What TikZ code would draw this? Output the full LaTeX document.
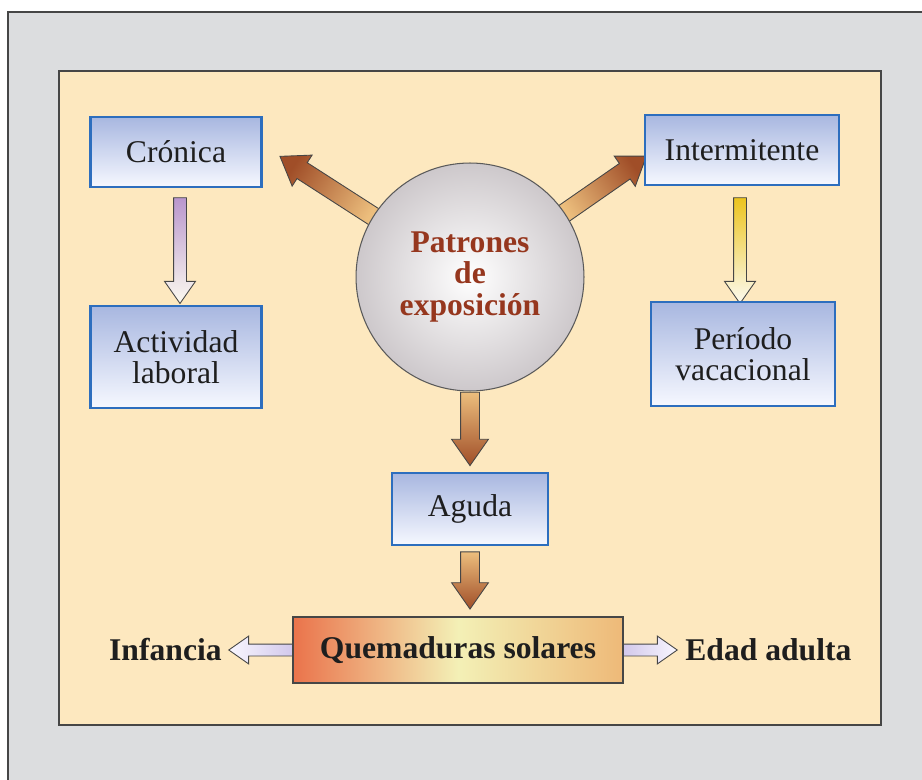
\documentclass[tikz,border=0pt]{standalone}
\usepackage{fontspec}
\setmainfont{Liberation Serif}
\usetikzlibrary{shapes.arrows, calc}

\definecolor{bggray}{RGB}{220,221,223}
\definecolor{cream}{RGB}{253,232,191}
\definecolor{framegray}{RGB}{70,70,70}
\definecolor{boxblue}{RGB}{45,110,190}
\definecolor{boxtop}{RGB}{168,183,224}
\definecolor{boxbot}{RGB}{246,248,255}
\definecolor{circgray}{RGB}{205,200,203}
\definecolor{circline}{RGB}{90,90,90}
\definecolor{circtext}{RGB}{150,55,30}
\definecolor{textblack}{RGB}{30,30,30}
\definecolor{browntail}{RGB}{236,190,125}
\definecolor{browntip}{RGB}{160,78,40}
\definecolor{purpletop}{RGB}{185,150,205}
\definecolor{yellowtop}{RGB}{236,196,30}
\definecolor{paletip}{RGB}{252,250,240}
\definecolor{lavtail}{RGB}{210,200,235}
\definecolor{lavtip}{RGB}{248,246,255}
\definecolor{qleft}{RGB}{234,115,75}
\definecolor{qmid}{RGB}{243,240,182}
\definecolor{qright}{RGB}{238,185,120}

\pgfdeclarelayer{back}
\pgfdeclarelayer{links}
\pgfsetlayers{back,links,main}

\begin{document}
\begin{tikzpicture}[x=0.02cm, y=-0.02cm,
    every node/.style={font=\fontsize{18}{18}\selectfont},
    box/.style={draw=boxblue, line width=1.3pt, top color=boxtop, bottom color=boxbot,
        align=center, inner sep=0pt, text=textblack},
    boldtext/.style={font=\fontsize{18}{18}\selectfont\bfseries, text=textblack, inner sep=0pt},
    fat/.style n args={4}{to path={
        let \p1=($(\tikztotarget)-(\tikztostart)$), \n1={veclen(\x1,\y1)},
            \n2={atan2(\y1,\x1)}, \n3={atan2(\y1,\x1)+90} in
        node[single arrow, draw=framegray, line width=0.5pt, inner sep=0pt, inner ysep=#1,
            single arrow head extend=#2, single arrow tip angle=70, minimum width=0pt,
            outer sep=0pt, minimum height=\n1, rotate=\n2, left color=#3, right color=#4,
            shading angle=\n3]
            at ($(\tikztostart)!.5!(\tikztotarget)$) {}
    }}]
    \useasboundingbox (0,0) rectangle (922,780);
    \clip (0,0) rectangle (922,780);

    % Frames
    \begin{pgfonlayer}{back}
        \fill[white] (0,0) rectangle (922,780);
        \draw[framegray, line width=1.1pt, fill=bggray] (8,12) rectangle (960,820);
        \draw[framegray, line width=1.1pt, fill=cream] (59,71) rectangle (881,725);
    \end{pgfonlayer}

    % Nodes
    \node[box, minimum width=3.42cm, minimum height=1.4cm] (cron) at (176,152) {Crónica};
    \node[box, minimum width=3.42cm, minimum height=2.04cm] (act) at (176,357) {Actividad\\laboral};
    \node[box, minimum width=3.88cm, minimum height=1.4cm] (inter) at (742,150) {Intermitente};
    \node[box, minimum width=3.68cm, minimum height=2.08cm] (per) at (743,354) {Período\\vacacional};
    \node[circle, draw=circline, line width=0.6pt, inner color=white, outer color=circgray,
        minimum size=4.56cm, inner sep=0pt, align=center, text=circtext,
        font=\fontsize{18}{18}\selectfont\bfseries] (circ) at (470,277) {Patrones\\de\\exposición};
    \node[box, minimum width=3.12cm, minimum height=1.44cm] (aguda) at (470,509) {Aguda};
    \node[draw=framegray, line width=0.8pt, left color=qleft, right color=qright, middle color=qmid,
        minimum width=6.6cm, minimum height=1.32cm, inner sep=0pt, text=textblack,
        font=\fontsize{18}{18}\selectfont\bfseries] (quem) at (458,650) {Quemaduras solares};
    \node[boldtext, anchor=east] (inf) at (222,650) {Infancia};
    \node[boldtext, anchor=west] (edad) at (685,650) {Edad adulta};

    % Edges
    \begin{pgfonlayer}{links}
        \path[fat={0.18cm}{0.18cm}{browntail}{browntip}]
            ($(circ.center)!0.9!(circ.148)$) to ($(cron.east)+(23,8)$);
        \path[fat={0.18cm}{0.18cm}{browntail}{browntip}]
            ($(circ.center)!0.9!(circ.34)$) to ($(inter.west)+(-3,10)$);
        \path[fat={0.18cm}{0.18cm}{browntail}{browntip}]
            ($(circ.south)+(0,-6)$) to ($(aguda.north)+(0,-13)$);
        \path[fat={0.18cm}{0.18cm}{browntail}{browntip}]
            ($(aguda.south)+(0,-1)$) to ($(aguda.south |- quem.north)+(0,-14)$);
        \path[fat={0.12cm}{0.18cm}{purpletop}{paletip}]
            ($(cron.south)+(4,5)$) to ($(act.north)+(4,-6)$);
        \path[fat={0.12cm}{0.18cm}{yellowtop}{paletip}]
            ($(inter.south)+(-2,7)$) to ($(per.north)+(-3,-2)$);
        \path[fat={0.11cm}{0.16cm}{lavtail}{lavtip}]
            ($(quem.west)+(5,0)$) to ($(inf.east)+(11,0)$);
        \path[fat={0.11cm}{0.16cm}{lavtail}{lavtip}]
            ($(quem.east)+(-5,0)$) to ($(edad.west)+(-12,0)$);
    \end{pgfonlayer}
\end{tikzpicture}
\end{document}
